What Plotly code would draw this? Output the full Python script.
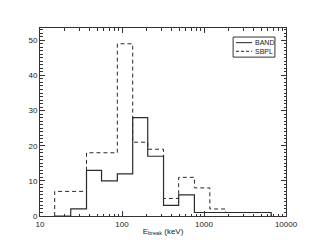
import plotly.graph_objects as go

# Bin edges (keV) and counts
bin_edges = [15.1, 23.7, 36.9, 56.3, 87.7, 135, 206, 321, 491, 764, 1178, 1836, 2830, 4360, 6600]
band_counts = [0, 2, 13, 10, 12, 28, 17, 3, 6, 1, 1, 1, 1, 1]
sbpl_counts = [7, 7, 18, 18, 49, 21, 19, 5, 11, 8, 2, 1, 1, 1]
x_tickvals = [10, 100, 1000, 10000]
x_ticktext = ["10", "100", "1000", "10000"]
y_tickvals = [0, 10, 20, 30, 40, 50]


def step_xy(edges, counts):
    xs = [edges[0]] + list(edges[:-1]) + [edges[-1], edges[-1]]
    ys = [0] + list(counts) + [counts[-1], 0]
    return xs, ys


fig = go.Figure()
bx, by = step_xy(bin_edges, band_counts)
sx, sy = step_xy(bin_edges, sbpl_counts)
fig.add_trace(go.Scatter(x=sx, y=sy, mode="lines", line=dict(shape="hv", color="#2a2a2a", width=1, dash="4px,3px"),
                         name="SBPL", showlegend=False))
fig.add_trace(go.Scatter(x=bx, y=by, mode="lines", line=dict(shape="hv", color="#2a2a2a", width=1.2),
                         name="BAND", showlegend=False))

minor_x = [m * 10 ** k for k in range(1, 4) for m in range(2, 10)]

font = dict(family="Liberation Sans, Arial, sans-serif", size=8, color="#222")

fig.update_xaxes(type="log", range=[1, 4], tickvals=x_tickvals, ticktext=x_ticktext,
                 ticks="inside", ticklen=5, tickcolor="#333", showline=True, linecolor="#333", linewidth=1,
                 mirror="allticks", showgrid=False, zeroline=False, tickfont=font,
                 minor=dict(tickvals=minor_x, ticks="inside", ticklen=2.5, tickcolor="#333", showgrid=False),
                 title=dict(text="E<sub>break</sub> (keV)", font=font, standoff=0))
fig.update_yaxes(range=[0, 53.5], tickvals=y_tickvals, ticks="inside", ticklen=5, tickcolor="#333",
                 showline=True, linecolor="#333", linewidth=1, mirror="allticks", showgrid=False,
                 zeroline=False, tickfont=font,
                 minor=dict(dtick=1, ticks="inside", ticklen=2.5, tickcolor="#333", showgrid=False))

# manual legend
fig.add_shape(type="rect", xref="paper", yref="paper", x0=0.785, x1=0.955, y0=0.845, y1=0.952,
              line=dict(color="#333", width=1), fillcolor="white")
fig.add_shape(type="line", xref="paper", yref="paper", x0=0.797, x1=0.862, y0=0.922, y1=0.922,
              line=dict(color="#222", width=1))
fig.add_shape(type="line", xref="paper", yref="paper", x0=0.797, x1=0.862, y0=0.876, y1=0.876,
              line=dict(color="#222", width=1, dash="3px,2px"))
small = dict(family="Liberation Sans, Arial, sans-serif", size=7, color="#222")
fig.add_annotation(xref="paper", yref="paper", x=0.866, y=0.922, text="BAND", showarrow=False,
                   xanchor="left", yanchor="middle", font=small)
fig.add_annotation(xref="paper", yref="paper", x=0.866, y=0.876, text="SBPL", showarrow=False,
                   xanchor="left", yanchor="middle", font=small)

# page body has an 8px margin; compensate so the plot sits where the reference has it
fig.update_layout(width=303, height=241, margin=dict(l=32, r=25, t=20, b=33),
                  paper_bgcolor="white", plot_bgcolor="white", showlegend=False)
fig.write_html("out.html")
